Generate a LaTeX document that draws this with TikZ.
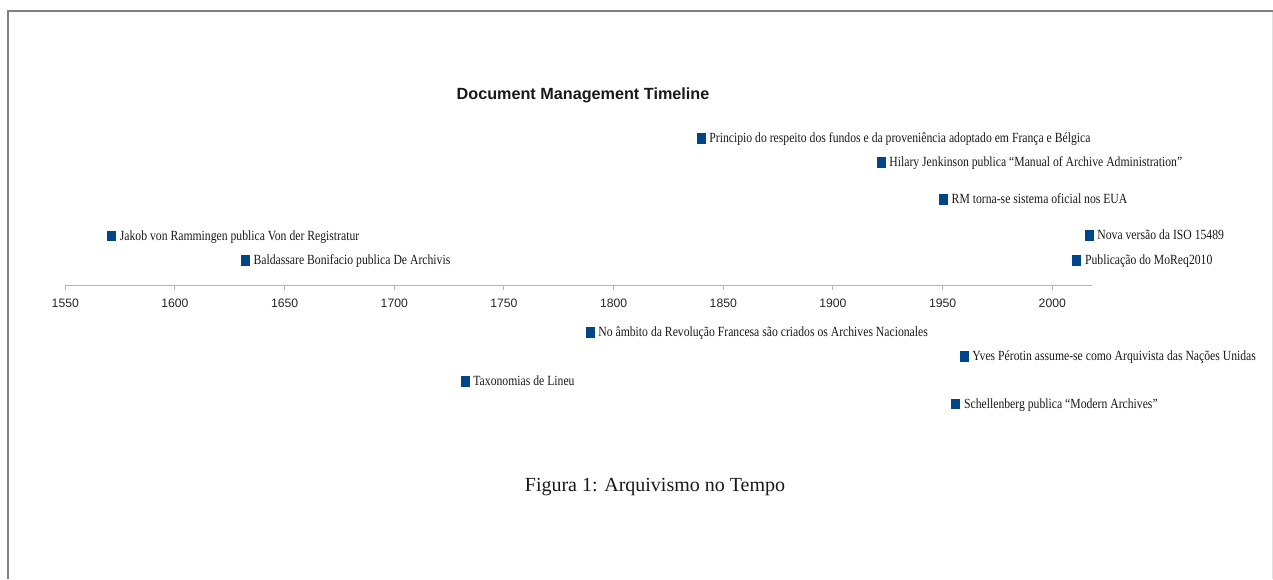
\documentclass[tikz,border=0pt]{standalone}
\usepackage{fontspec}
\setmainfont{Liberation Serif}
\newfontfamily\axisfont{Liberation Sans}
\newfontfamily\eventfont[FakeStretch=0.835]{Liberation Serif}
\definecolor{markblue}{HTML}{004586}
\definecolor{axisgray}{HTML}{B3B3B3}
\definecolor{framegray}{HTML}{808080}
\definecolor{edgegray}{HTML}{E0E0E0}
\tikzset{
  marker/.style={rectangle, fill=markblue, draw=none, inner sep=0pt,
    minimum width=9pt, minimum height=10.5pt},
  eventtext/.style={anchor=base west, inner sep=0pt, xshift=3.5pt, yshift=-4pt,
    font=\eventfont\fontsize{14pt}{16pt}\selectfont, text=black!90},
  yearlabel/.style={anchor=base, inner sep=0pt,
    font=\axisfont\fontsize{12.2pt}{14pt}\selectfont, text=black!85},
  axisline/.style={draw=axisgray, line width=1pt},
}
\begin{document}
\begin{tikzpicture}[x=1pt, y=-1pt]
  \useasboundingbox (0,0) rectangle (1273,579);
  % page frame
  \draw[framegray, line width=2pt] (7,10.5) -- (1273,10.5);
  \draw[framegray, line width=2pt] (7.5,9.5) -- (7.5,579);
  \draw[edgegray, line width=1pt] (1272.5,11.5) -- (1272.5,579);

  % title
  \node[anchor=base, inner sep=0pt, font=\axisfont\bfseries\fontsize{16.2pt}{18pt}\selectfont, text=black!90]
    (title) at (583,99) {Document Management Timeline};

  % time axis: 1550 at x=65.3, 2.1933 px per year
  \coordinate (axstart) at (65.3,285);
  \coordinate (axend) at (1092,285);
  \draw[axisline] (axstart) -- (axend);
  \foreach \yr [count=\i] in {1550,1600,...,2000}{
    \pgfmathsetmacro{\xx}{65.3+(\yr-1550)*2.1933}
    \coordinate (tick\i) at (\xx,285);
    \draw[axisline] (tick\i) -- ++(0,5);
    \node[yearlabel] (yl\i) at (\xx,307.7) {\yr};
  }

  % events above the axis
  \node[marker] (m-princ) at (701,138.7) {};
  \node[eventtext] (t-princ) at (m-princ.east) {Principio do respeito dos fundos e da proveniência adoptado em França e Bélgica};
  \node[marker] (m-hilary) at (881,162.7) {};
  \node[eventtext] (t-hilary) at (m-hilary.east) {Hilary Jenkinson publica “Manual of Archive Administration”};
  \node[marker] (m-rm) at (943.3,199.3) {};
  \node[eventtext] (t-rm) at (m-rm.east) {RM torna-se sistema oficial nos EUA};
  \node[marker] (m-jakob) at (111.5,236) {};
  \node[eventtext] (t-jakob) at (m-jakob.east) {Jakob von Rammingen publica Von der Registratur};
  \node[marker] (m-iso) at (1089,235.7) {};
  \node[eventtext] (t-iso) at (m-iso.east) {Nova versão da ISO 15489};
  \node[marker] (m-bald) at (245.2,260.7) {};
  \node[eventtext] (t-bald) at (m-bald.east) {Baldassare Bonifacio publica De Archivis};
  \node[marker] (m-moreq) at (1076.7,260.7) {};
  \node[eventtext] (t-moreq) at (m-moreq.east) {Publicação do MoReq2010};

  % events below the axis
  \node[marker] (m-revol) at (590,332.7) {};
  \node[eventtext] (t-revol) at (m-revol.east) {No âmbito da Revolução Francesa são criados os Archives Nacionales};
  \node[marker] (m-yves) at (964,356.7) {};
  \node[eventtext] (t-yves) at (m-yves.east) {Yves Pérotin assume-se como Arquivista das Nações Unidas};
  \node[marker] (m-taxo) at (465,381.7) {};
  \node[eventtext] (t-taxo) at (m-taxo.east) {Taxonomias de Lineu};
  \node[marker] (m-schell) at (955.7,404) {};
  \node[eventtext] (t-schell) at (m-schell.east) {Schellenberg publica “Modern Archives”};

  % caption
  \node[anchor=base, inner sep=0pt, font=\fontsize{20pt}{24pt}\selectfont, text=black!90]
    (caption) at (655,491.7) {Figura 1: Arquivismo no Tempo};
\end{tikzpicture}
\end{document}
